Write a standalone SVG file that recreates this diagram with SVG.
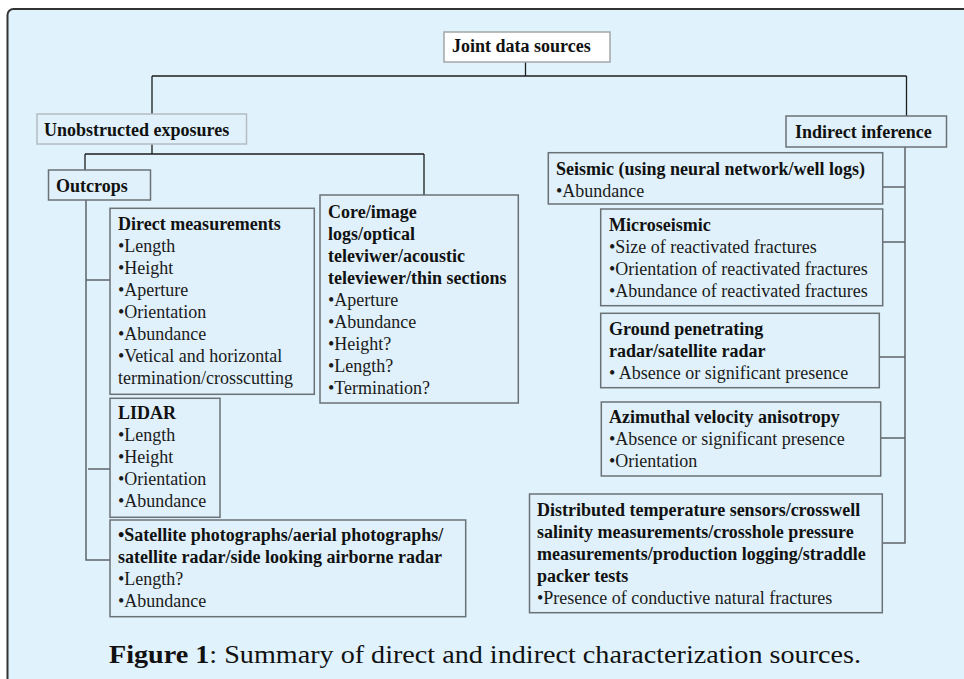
<svg xmlns="http://www.w3.org/2000/svg" width="964" height="679" viewBox="0 0 964 679">
<style>
  text { font-family: "Liberation Serif", "Times New Roman", serif; font-size: 18px; fill: #1a1a1a; }
  .b { font-weight: bold; fill: #111; }
  .box { fill: #e0f1fb; stroke: #6b7276; stroke-width: 1.5; }
  .top { fill: #ffffff; stroke: #a3a6a8; stroke-width: 1.5; }
  .lite { fill: #e0f1fb; stroke: #b4bcc2; stroke-width: 1.5; }
  .c1 { fill: none; stroke: #1e1e1e; stroke-width: 1.3; }
  .c2 { fill: none; stroke: #5e6468; stroke-width: 1.5; }
  .cap { font-family: "Liberation Serif", "Times New Roman", serif; font-size: 25px; fill: #111; }
</style>
<rect x="0" y="0" width="964" height="679" fill="#ffffff"/>
<rect x="7.5" y="9" width="975" height="700" rx="6" ry="6" fill="#e0f2fc" stroke="#333" stroke-width="2"/>

<g id="connectors">
  <path class="c1" d="M525.5 62 V76 M152 76 H906.5 M152 76 V114 M906.5 76 V116 M152 144 V154 M85 154 H424 M85 154 V170 M424 154 V195"/>
  <path class="c2" d="M86 200 V560 H110 M86 280 H110 M88 469 H110"/>
  <path class="c2" d="M905 146 V543 H882.5 M882.7 187 H905 M882.7 242 H905 M879.3 357 H905 M880.7 438 H905"/>
</g>

<g id="joint">
  <rect class="top" x="444" y="32" width="166" height="30"/>
  <text class="b" x="452" y="52">Joint data sources</text>
</g>

<g id="unobstructed">
  <rect class="lite" x="37" y="114" width="209.5" height="30"/>
  <text class="b" x="44" y="136">Unobstructed exposures</text>
</g>

<g id="indirect">
  <rect class="box" x="786" y="116" width="160.5" height="31"/>
  <text class="b" x="795" y="138">Indirect inference</text>
</g>

<g id="outcrops">
  <rect class="box" x="48.5" y="170" width="102" height="30"/>
  <text class="b" x="56" y="192">Outcrops</text>
</g>

<g id="direct">
  <rect class="box" x="110" y="208.3" width="204.3" height="186"/>
  <text class="b" x="118" y="230">Direct measurements</text>
  <text x="118" y="252">•Length</text>
  <text x="118" y="274">•Height</text>
  <text x="118" y="296">•Aperture</text>
  <text x="118" y="318">•Orientation</text>
  <text x="118" y="340">•Abundance</text>
  <text x="118" y="362">•Vetical and horizontal</text>
  <text x="118" y="384">termination/crosscutting</text>
</g>

<g id="core">
  <rect class="box" x="320" y="195" width="198.3" height="208"/>
  <text class="b" x="328" y="218">Core/image</text>
  <text class="b" x="328" y="240">logs/optical</text>
  <text class="b" x="328" y="262">televiwer/acoustic</text>
  <text class="b" x="328" y="284">televiewer/thin sections</text>
  <text x="328" y="306">•Aperture</text>
  <text x="328" y="328">•Abundance</text>
  <text x="328" y="350">•Height?</text>
  <text x="328" y="372">•Length?</text>
  <text x="328" y="394">•Termination?</text>
</g>

<g id="lidar">
  <rect class="box" x="110" y="398.3" width="110" height="119"/>
  <text class="b" x="118" y="419">LIDAR</text>
  <text x="118" y="441">•Length</text>
  <text x="118" y="463">•Height</text>
  <text x="118" y="485">•Orientation</text>
  <text x="118" y="507">•Abundance</text>
</g>

<g id="satellite">
  <rect class="box" x="110" y="520" width="355.7" height="96.7"/>
  <text class="b" x="118" y="541">•Satellite photographs/aerial photographs/</text>
  <text class="b" x="118" y="563">satellite radar/side looking airborne radar</text>
  <text x="118" y="585">•Length?</text>
  <text x="118" y="607">•Abundance</text>
</g>

<g id="seismic">
  <rect class="box" x="548.3" y="152.7" width="334.4" height="51.3"/>
  <text class="b" x="556" y="175">Seismic (using neural network/well logs)</text>
  <text x="556" y="197">•Abundance</text>
</g>

<g id="microseismic">
  <rect class="box" x="600.7" y="209" width="282" height="96.7"/>
  <text class="b" x="609" y="231">Microseismic</text>
  <text x="609" y="253">•Size of reactivated fractures</text>
  <text x="609" y="275">•Orientation of reactivated fractures</text>
  <text x="609" y="297">•Abundance of reactivated fractures</text>
</g>

<g id="ground">
  <rect class="box" x="600.7" y="313.3" width="278.6" height="74.4"/>
  <text class="b" x="609" y="335">Ground penetrating</text>
  <text class="b" x="609" y="357">radar/satellite radar</text>
  <text x="609" y="379">• Absence or significant presence</text>
</g>

<g id="azimuthal">
  <rect class="box" x="601.3" y="402" width="279.4" height="74"/>
  <text class="b" x="609" y="423">Azimuthal velocity anisotropy</text>
  <text x="609" y="445">•Absence or significant presence</text>
  <text x="609" y="467">•Orientation</text>
</g>

<g id="distributed">
  <rect class="box" x="529.5" y="494" width="352.8" height="118.7"/>
  <text class="b" x="537" y="516">Distributed temperature sensors/crosswell</text>
  <text class="b" x="537" y="538">salinity measurements/crosshole pressure</text>
  <text class="b" x="537" y="560">measurements/production logging/straddle</text>
  <text class="b" x="537" y="582">packer tests</text>
  <text x="537" y="604">•Presence of conductive natural fractures</text>
</g>

<text class="cap" x="109" y="663" textLength="752" lengthAdjust="spacingAndGlyphs"><tspan font-weight="bold">Figure 1</tspan>: Summary of direct and indirect characterization sources.</text>
</svg>
